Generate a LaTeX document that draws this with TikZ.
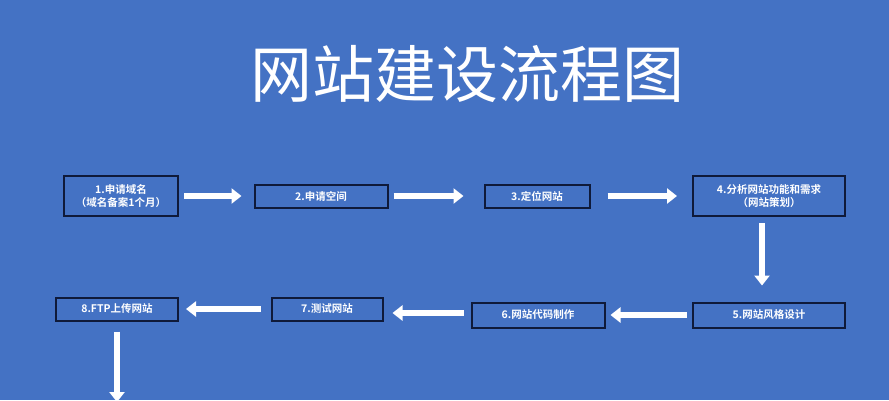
\documentclass[tikz,border=0pt]{standalone}
\usepackage{fontspec}
\setmainfont{Noto Sans CJK SC}
\newfontfamily\cjkbold{Noto Sans CJK SC Bold}
\usetikzlibrary{arrows.meta}
\definecolor{bgblue}{HTML}{4472C4}
\definecolor{boxline}{HTML}{0F1A3A}
\definecolor{shadoworange}{HTML}{E0904A}
\begin{document}
\begin{tikzpicture}[x=1pt,y=-1pt,
                    stepbox/.style={draw=boxline, line width=2pt, fill=bgblue, text=white,
                                    font=\cjkbold\fontsize{10.5}{12.5}\selectfont, align=center,
                                    inner sep=0pt, minimum height=23pt},
                    flow_arrow/.style={draw=white, line width=5.5pt, -{Triangle[length=10pt,width=15pt]}}]
                    \fill[bgblue] (0,0) rectangle (889,400);
                    \useasboundingbox (0,0) rectangle (889,400);
                    \node[text=white, font=\fontsize{62}{66}\selectfont,
                          preaction={text=shadoworange, transform canvas={shift={(2pt,-2pt)}}}] (title) at (467,74) {网站建设流程图};
                    \node[stepbox, minimum width=114pt, minimum height=40pt] (s1) at (121,196) {1.申请域名\\（域名备案1个月）};
                    \node[stepbox, minimum width=133pt] (s2) at (321,196) {2.申请空间};
                    \node[stepbox, minimum width=105pt] (s3) at (537,196) {3.定位网站};
                    \node[stepbox, minimum width=152pt, minimum height=40pt] (s4) at (769,196) {4.分析网站功能和需求\\（网站策划）};
                    \node[stepbox, minimum width=152pt, minimum height=25pt] (s5) at (769,315) {5.网站风格设计};
                    \node[stepbox, minimum width=133pt, minimum height=25pt] (s6) at (538,315) {6.网站代码制作};
                    \node[stepbox, minimum width=111pt] (s7) at (327,309) {7.测试网站};
                    \node[stepbox, minimum width=122pt] (s8) at (117,309) {8.FTP上传网站};
                    \coordinate (end) at (117,402);
                    \draw[flow_arrow] ([xshift=5pt]s1.east) -- ([xshift=-12pt]s2.west);
                    \draw[flow_arrow] ([xshift=5pt]s2.east) -- ([xshift=-20pt]s3.west);
                    \draw[flow_arrow] ([xshift=17pt]s3.east) -- ([xshift=-15pt]s4.west);
                    \draw[flow_arrow] ([xshift=-7pt,yshift=-6pt]s4.south) -- ([xshift=-7pt,yshift=16pt]s5.north);
                    \draw[flow_arrow] ([xshift=-5pt]s5.west) -- ([xshift=5pt]s6.east);
                    \draw[flow_arrow] ([xshift=-7pt,yshift=2pt]s6.west) -- ([xshift=9pt,yshift=-4pt]s7.east);
                    \draw[flow_arrow] ([xshift=-10pt]s7.west) -- ([xshift=7pt]s8.east);
                    \draw[flow_arrow] ([yshift=-10pt]s8.south) -- (end);
                \end{tikzpicture}
\end{document}
